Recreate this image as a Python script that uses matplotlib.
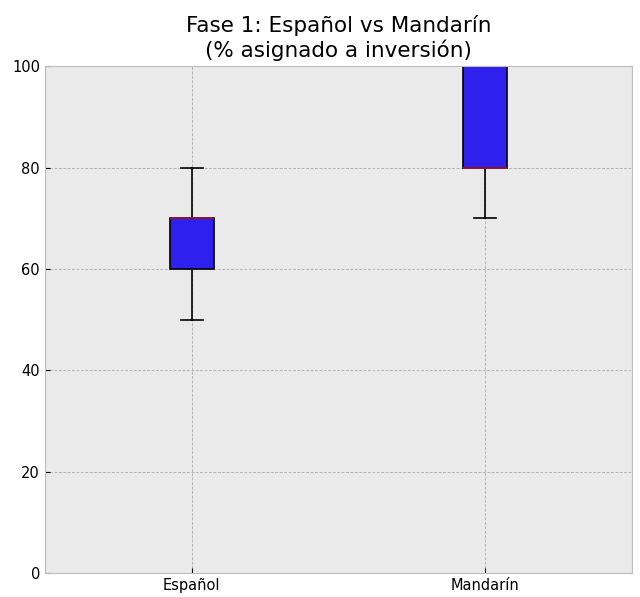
import matplotlib
matplotlib.use("Agg")
import matplotlib.pyplot as plt

categories = ["Español", "Mandarín"]
whislo = [50, 70]
q1 = [60, 80]
med = [70, 80]
q3 = [70, 100]
whishi = [80, 100]

plt.style.use("bmh")
fig, ax = plt.subplots(figsize=(6.4, 5.97), dpi=100)
ax.set_facecolor("#eaeaea")

stats = []
for c, lo, a, m, b, hi in zip(categories, whislo, q1, med, q3, whishi):
    stats.append(dict(label=c, whislo=lo, q1=a, med=m, q3=b, whishi=hi, fliers=[]))

ax.bxp(stats, patch_artist=True, showfliers=False,
       boxprops=dict(facecolor="#3020ee", edgecolor="black", linewidth=1.2),
       medianprops=dict(color="#a01830", linewidth=1.2),
       whiskerprops=dict(color="black", linewidth=1.2),
       capprops=dict(color="black", linewidth=1.2))

ax.set_ylim(0, 100)
ax.grid(True, color="#b0b0b0", linestyle="--", linewidth=0.6)
ax.set_title("Fase 1: Español vs Mandarín\n(% asignado a inversión)", fontsize=15.5, pad=7)
ax.tick_params(labelsize=10.5)
fig.subplots_adjust(left=0.07, right=0.988, top=0.889, bottom=0.04)
fig.savefig("out.png", dpi=100)
